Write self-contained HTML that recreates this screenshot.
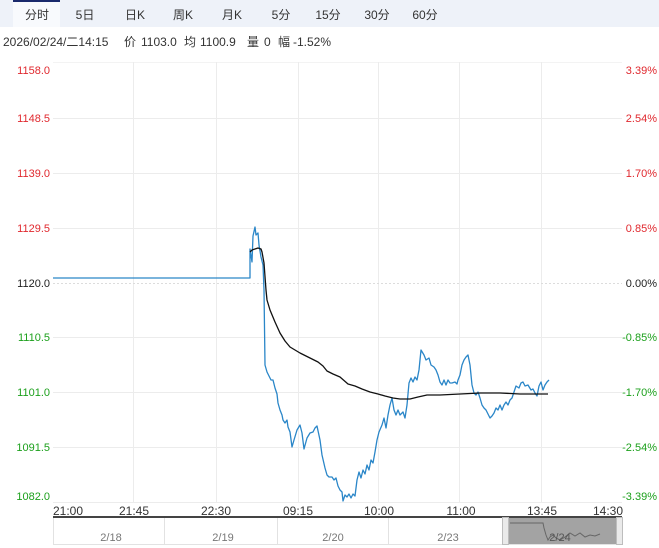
<!DOCTYPE html>
<html><head><meta charset="utf-8"><style>
html,body{margin:0;padding:0;background:#fff;}
svg{display:block;font-family:"Liberation Sans","Noto Sans CJK SC",sans-serif;}
</style></head><body>
<svg width="659" height="548" viewBox="0 0 659 548" xmlns="http://www.w3.org/2000/svg">
<!-- tab bar -->
<rect x="0" y="0" width="659" height="27" fill="#eef2f9"/>
<rect x="13" y="0" width="47" height="27" fill="#f8fafd"/>
<rect x="13" y="0" width="47" height="2" fill="#1a2a6c"/>
<g font-size="12" fill="#333" text-anchor="middle" font-family="'Liberation Sans','Noto Sans CJK SC',sans-serif">
<text x="37" y="19">分时</text>
<text x="85" y="19">5日</text>
<text x="135" y="19">日K</text>
<text x="183" y="19">周K</text>
<text x="232" y="19">月K</text>
<text x="281" y="19">5分</text>
<text x="328" y="19">15分</text>
<text x="377" y="19">30分</text>
<text x="425" y="19">60分</text>
</g>
<!-- info line -->
<g font-size="12" fill="#333">
<text x="3" y="46">2026/02/24/二14:15</text>
<text x="124" y="46">价</text><text x="141" y="46">1103.0</text>
<text x="184" y="46">均</text><text x="200" y="46">1100.9</text>
<text x="247" y="46">量</text><text x="264" y="46">0</text>
<text x="278" y="46">幅</text><text x="293" y="46">-1.52%</text>
</g>
<!-- grid -->
<g stroke="#ececec" stroke-width="1">
<line x1="53" y1="62.5" x2="622" y2="62.5" stroke="#f3f3f3"/>
<line x1="53" y1="118.5" x2="622" y2="118.5"/>
<line x1="53" y1="173.5" x2="622" y2="173.5"/>
<line x1="53" y1="228.5" x2="622" y2="228.5"/>
<line x1="53" y1="337.5" x2="622" y2="337.5"/>
<line x1="53" y1="392.5" x2="622" y2="392.5"/>
<line x1="53" y1="447.5" x2="622" y2="447.5"/>
<line x1="53" y1="502.5" x2="622" y2="502.5"/>
<line x1="133.5" y1="62" x2="133.5" y2="503"/>
<line x1="216.5" y1="62" x2="216.5" y2="503"/>
<line x1="298.5" y1="62" x2="298.5" y2="503"/>
<line x1="378.5" y1="62" x2="378.5" y2="503"/>
<line x1="459.5" y1="62" x2="459.5" y2="503"/>
<line x1="541.5" y1="62" x2="541.5" y2="503"/>
</g>
<line x1="53" y1="283.5" x2="622" y2="283.5" stroke="#dcdcdc" stroke-width="1" stroke-dasharray="2,2"/>
<!-- left labels -->
<g font-size="11" text-anchor="end">
<text x="50" y="74" fill="#e0282e">1158.0</text>
<text x="50" y="122" fill="#e0282e">1148.5</text>
<text x="50" y="177" fill="#e0282e">1139.0</text>
<text x="50" y="232" fill="#e0282e">1129.5</text>
<text x="50" y="287" fill="#222">1120.0</text>
<text x="50" y="341" fill="#1ca01c">1110.5</text>
<text x="50" y="396" fill="#1ca01c">1101.0</text>
<text x="50" y="451" fill="#1ca01c">1091.5</text>
<text x="50" y="500" fill="#1ca01c">1082.0</text>
</g>
<g font-size="11" text-anchor="end">
<text x="657" y="74" fill="#e0282e">3.39%</text>
<text x="657" y="122" fill="#e0282e">2.54%</text>
<text x="657" y="177" fill="#e0282e">1.70%</text>
<text x="657" y="232" fill="#e0282e">0.85%</text>
<text x="657" y="287" fill="#222">0.00%</text>
<text x="657" y="341" fill="#1ca01c">-0.85%</text>
<text x="657" y="396" fill="#1ca01c">-1.70%</text>
<text x="657" y="451" fill="#1ca01c">-2.54%</text>
<text x="657" y="500" fill="#1ca01c">-3.39%</text>
</g>
<!-- price line -->
<polyline fill="none" stroke="#2a86c8" stroke-width="1.3" stroke-linejoin="round" points="53,278 250,278 250,249 252,262 253,236 255,227 256,235 258,233 259,245 261,257 263,265 264,290 265,365 267,372 269,376 271,380 273,380 275,388 277,394 278,403 280,410 282,415 283,420 285,423 287,420 288,427 290,432 292,447 294,440 297,430 300,425 302,433 304,449 307,438 310,433 313,432 315,428 317,426 320,440 322,455 325,468 327,475 329,477 332,477 334,480 336,478 338,486 340,490 342,492 343,501 345,495 347,497 349,494 351,498 353,494 355,496 357,480 359,472 361,478 363,470 365,474 367,465 369,470 371,460 373,463 375,452 377,440 379,432 382,425 384,418 386,428 388,415 390,405 392,398 394,410 396,415 398,410 400,415 403,412 405,418 407,405 409,383 411,378 413,382 415,377 417,380 419,370 421,350 424,355 426,360 429,358 431,365 434,367 436,370 438,375 440,382 442,385 444,380 446,385 448,380 450,383 452,383 455,382 457,384 458,380 460,375 462,365 464,360 466,357 468,355 470,365 472,385 474,393 476,395 478,392 480,398 482,405 484,408 486,410 488,414 490,418 492,416 494,413 496,408 498,410 500,405 502,410 504,405 506,402 508,405 510,400 512,398 514,392 516,386 519,388 521,383 523,382 525,386 528,385 531,390 533,389 535,393 537,396 539,386 541,382 543,390 545,385 547,382 549,380"/>
<!-- avg line -->
<polyline fill="none" stroke="#111" stroke-width="1.3" stroke-linejoin="round" points="250,252 252,250 255,249 258,248 261,249 262,252 264,263 266,290 267,300 270,310 275,322 280,333 285,341 290,347 300,353 310,358 318,362 323,366 327,371 333,374 340,377 348,384 355,386 362,389 370,392 378,394 385,396 393,398 400,399 410,399 418,397 427,395 440,395 460,394 480,393 500,393 520,394 548,394"/>
<!-- time labels -->
<g font-size="12" fill="#333">
<text x="53" y="515">21:00</text>
<text x="134" y="515" text-anchor="middle">21:45</text>
<text x="216" y="515" text-anchor="middle">22:30</text>
<text x="298" y="515" text-anchor="middle">09:15</text>
<text x="379" y="515" text-anchor="middle">10:00</text>
<text x="461" y="515" text-anchor="middle">11:00</text>
<text x="542" y="515" text-anchor="middle">13:45</text>
<text x="623" y="515" text-anchor="end">14:30</text>
</g>
<!-- navigator -->
<rect x="53.5" y="517.5" width="568" height="27" fill="#fff" stroke="#e2e2e2"/>
<line x1="53" y1="517" x2="622" y2="517" stroke="#444" stroke-width="2"/>
<g stroke="#e2e2e2">
<line x1="164.5" y1="518" x2="164.5" y2="545"/>
<line x1="277.5" y1="518" x2="277.5" y2="545"/>
<line x1="388.5" y1="518" x2="388.5" y2="545"/>
</g>
<g font-size="11" fill="#777" text-anchor="middle">
<text x="111" y="541">2/18</text>
<text x="223" y="541">2/19</text>
<text x="333" y="541">2/20</text>
<text x="448" y="541">2/23</text>
</g>
<rect x="509" y="518" width="107" height="26" fill="#a3a3a3"/>
<polyline fill="none" stroke="#666" stroke-width="1" points="510,523 543,523 544,528 546,535 548,540 550,537 553,535 556,538 560,540 565,537 570,533 575,536 580,533 585,537 590,535 595,536 600,534"/>
<text x="560" y="541" font-size="11" fill="#555" text-anchor="middle">2/24</text>
<rect x="502.5" y="517.5" width="6" height="27" fill="#eaeaea" stroke="#bdbdbd"/>
<rect x="616.5" y="517.5" width="6" height="27" fill="#eaeaea" stroke="#bdbdbd"/>
</svg>
</body></html>
